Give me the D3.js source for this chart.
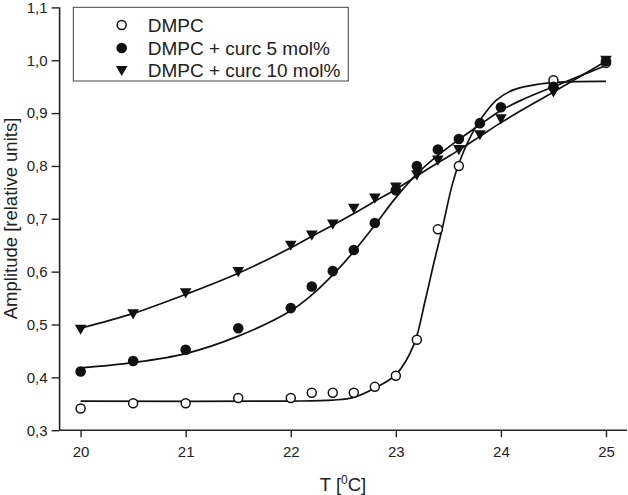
<!DOCTYPE html>
<html>
<head>
<meta charset="utf-8">
<script src="https://cdn.jsdelivr.net/npm/d3@7"></script>
<style>
  body { margin: 0; background: #fff; }
  svg { display: block; font-family: "Liberation Sans", Arial, sans-serif; }
</style>
</head>
<body>
<svg id="chart" width="628" height="495"></svg>
<script>
// ---- data ----
const xTicks = [20, 21, 22, 23, 24, 25];
const yTicks = [0.3, 0.4, 0.5, 0.6, 0.7, 0.8, 0.9, 1.0, 1.1];

const dmpcX = [20, 20.5, 21, 21.5, 22, 22.2, 22.4, 22.6, 22.8, 23, 23.2, 23.4, 23.6, 24.5, 25];
const dmpcY = [0.341, 0.351, 0.351, 0.361, 0.361, 0.371, 0.371, 0.371, 0.382, 0.403, 0.471, 0.68, 0.80, 0.962, 0.995];

const curc5X = [20, 20.5, 21, 21.5, 22, 22.2, 22.4, 22.6, 22.8, 23, 23.2, 23.4, 23.6, 23.8, 24, 24.5, 25];
const curc5Y = [0.411, 0.431, 0.452, 0.493, 0.531, 0.572, 0.601, 0.641, 0.692, 0.754, 0.80, 0.831, 0.851, 0.881, 0.911, 0.95, 0.998];

const curc10X = [20, 20.5, 21, 21.5, 22, 22.2, 22.4, 22.6, 22.8, 23, 23.2, 23.4, 23.6, 23.8, 24, 24.5, 25];
const curc10Y = [0.491, 0.52, 0.56, 0.60, 0.65, 0.669, 0.69, 0.72, 0.739, 0.76, 0.783, 0.811, 0.831, 0.859, 0.889, 0.94, 1.0];

// fitted curves, read as sample points along each drawn line
const dmpcFitX = [20, 22.0, 22.4, 22.6, 22.85, 23.0, 23.17, 23.28, 23.36, 23.44, 23.54, 23.62, 23.75, 23.85, 23.96, 24.12, 24.37, 24.6, 25];
const dmpcFitY = [0.355, 0.355, 0.357, 0.362, 0.385, 0.405, 0.461, 0.546, 0.615, 0.68, 0.767, 0.815, 0.87, 0.90, 0.925, 0.944, 0.955, 0.959, 0.96];

const curc5FitX = [20, 20.5, 21, 21.5, 22, 22.2, 22.4, 22.6, 22.8, 23, 23.2, 23.4, 23.6, 23.8, 24, 24.2, 24.5, 25];
const curc5FitY = [0.418, 0.428, 0.445, 0.478, 0.526, 0.556, 0.594, 0.638, 0.688, 0.74, 0.785, 0.82, 0.85, 0.878, 0.905, 0.925, 0.95, 0.99];

const curc10FitX = [20, 20.5, 21, 21.5, 22, 22.2, 22.4, 22.6, 22.8, 23, 23.2, 23.4, 23.6, 23.8, 24, 24.5, 25];
const curc10FitY = [0.493, 0.521, 0.557, 0.597, 0.645, 0.667, 0.688, 0.71, 0.733, 0.756, 0.781, 0.806, 0.83, 0.856, 0.882, 0.94, 0.998];

const seriesNames = ["DMPC", "DMPC + curc 5 mol%", "DMPC + curc 10 mol%"];
const xTitle = "T [";
const yTitle = "Amplitude [relative units]";

// ---- drawing ----
const svg = d3.select("#chart");
const x = d3.scaleLinear().domain([19.8, 25.2]).range([59.6, 627]);
const y = d3.scaleLinear().domain([0.3, 1.1]).range([430.2, 7.4]);
const fmt = d => d3.format(".1f")(d).replace(".", ",");
const fmtX = d => d3.format("d")(d);

const zip = (a, b) => a.map((v, i) => [v, b[i]]);

// minor ticks
const xMinor = d3.range(19.8, 25.21, 0.2).filter(v => Math.abs(v - Math.round(v)) > 0.01);
const yMinor = d3.range(0.35, 1.1, 0.1);

const gx = svg.append("g").attr("transform", "translate(0,430.2)");
gx.call(d3.axisBottom(x).tickValues(xMinor).tickSize(4).tickFormat(""));
gx.call(d3.axisBottom(x).tickValues(xTicks).tickSize(7).tickPadding(9).tickFormat(fmtX));
const gy = svg.append("g").attr("transform", "translate(59.6,0)");
gy.call(d3.axisLeft(y).tickValues(yMinor).tickSize(4).tickFormat(""));
gy.call(d3.axisLeft(y).tickValues(yTicks).tickSize(8).tickPadding(4).tickFormat(fmt));
[gx, gy].forEach(g => {
  g.selectAll(".domain").attr("stroke", "#222").attr("stroke-width", 1.6);
  g.selectAll(".tick line").attr("stroke", "#222").attr("stroke-width", 1.4);
  g.selectAll("text").attr("font-size", 15).attr("fill", "#222")
    .attr("font-family", "'Liberation Sans', Arial, sans-serif");
});
gx.selectAll(".domain").attr("d", `M${x(19.8)},0H${x(25.2)}`);
gy.selectAll(".domain").attr("d", `M0,${y(0.3)}V${y(1.1)}`);

// axis titles
const xt = svg.append("text").attr("x", 343).attr("y", 491).attr("text-anchor", "middle")
  .attr("font-size", 18.5).attr("fill", "#222");
xt.append("tspan").text(xTitle);
xt.append("tspan").text("0").attr("font-size", 12).attr("dy", -7);
xt.append("tspan").text("C]").attr("dy", 7);

svg.append("text").attr("transform", "translate(16.5,218.5) rotate(-90)")
  .attr("text-anchor", "middle").attr("font-size", 18.5).attr("fill", "#222").text(yTitle);

// fit lines
const line = d3.line().x(d => x(d[0])).y(d => y(d[1])).curve(d3.curveCatmullRom.alpha(0.5));
const g = svg.append("g");
[[dmpcFitX, dmpcFitY], [curc5FitX, curc5FitY], [curc10FitX, curc10FitY]].forEach(([xs, ys]) => {
  g.append("path").attr("d", line(zip(xs, ys))).attr("fill", "none")
    .attr("stroke", "#111").attr("stroke-width", 1.7);
});

// markers
const tri = "M-5.8,-4.6L5.8,-4.6L0,5.6Z";
function drawMarker(sel, type) {
  if (type === 0) sel.append("circle").attr("r", 4.5).attr("fill", "#fff").attr("stroke", "#111").attr("stroke-width", 1.5);
  else if (type === 1) sel.append("circle").attr("r", 5.3).attr("fill", "#111");
  else sel.append("path").attr("d", tri).attr("fill", "#111");
}
[[dmpcX, dmpcY], [curc5X, curc5Y], [curc10X, curc10Y]].forEach(([xs, ys], k) => {
  zip(xs, ys).forEach(d => {
    const m = g.append("g").attr("transform", `translate(${x(d[0])},${y(d[1])})`);
    drawMarker(m, k);
  });
});

// legend
const lg = svg.append("g");
lg.append("rect").attr("x", 73.3).attr("y", 7.3).attr("width", 275).attr("height", 73.7)
  .attr("fill", "#fff").attr("stroke", "#444").attr("stroke-width", 1);
const rows = [25, 48, 70.5];
seriesNames.forEach((name, k) => {
  const m = lg.append("g").attr("transform", `translate(121.7,${rows[k]})`);
  drawMarker(m, k);
  lg.append("text").attr("x", 147.7).attr("y", rows[k] + 6.8).attr("font-size", 19)
    .attr("fill", "#222").text(name);
});
</script>
</body>
</html>
